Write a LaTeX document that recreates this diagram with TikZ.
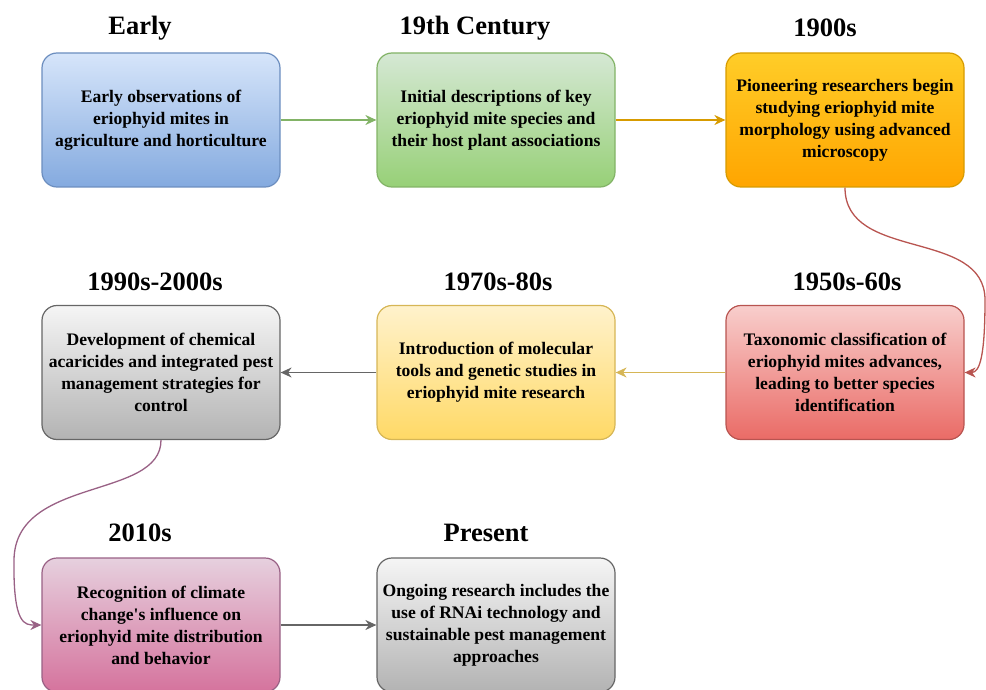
\documentclass[tikz,border=0pt]{standalone}
\usepackage{fontspec}
\setmainfont{Liberation Serif}[Ligatures=TeXOff]
\usetikzlibrary{arrows.meta}

\definecolor{blueT}{HTML}{D6E5FA}
\definecolor{blueB}{HTML}{84AADF}
\definecolor{blueL}{HTML}{6C8EBF}
\definecolor{greenT}{HTML}{D5E8D4}
\definecolor{greenB}{HTML}{97D077}
\definecolor{greenL}{HTML}{82B366}
\definecolor{orangeT}{HTML}{FFCD28}
\definecolor{orangeB}{HTML}{FFA500}
\definecolor{orangeL}{HTML}{D79B00}
\definecolor{redT}{HTML}{F8CECC}
\definecolor{redB}{HTML}{EA6B66}
\definecolor{redL}{HTML}{B85450}
\definecolor{yellowT}{HTML}{FFF2CC}
\definecolor{yellowB}{HTML}{FFD966}
\definecolor{yellowL}{HTML}{D6B656}
\definecolor{greyT}{HTML}{F5F5F5}
\definecolor{greyB}{HTML}{B3B3B3}
\definecolor{greyL}{HTML}{666666}
\definecolor{pinkT}{HTML}{E6D0DE}
\definecolor{pinkB}{HTML}{D5739D}
\definecolor{pinkL}{HTML}{996185}

\begin{document}
\begin{tikzpicture}[
            x=1pt, y=-1pt,
            box/.style={draw, rounded corners=15pt, line width=1.2pt,
            minimum width=238pt, minimum height=134pt,
            inner sep=2pt, align=center,
            font=\fontsize{17.6}{22}\selectfont\bfseries},
            era/.style={font=\fontsize{26.5}{31}\selectfont\bfseries},
            link/.style={-{Stealth[length=11pt,width=10pt,inset=3.5pt]}, line width=1.3pt}
        ]
\path[use as bounding box, clip] (0,0) rectangle (986,690);
% first row
            \node[box, draw=blueL, top color=blueT, bottom color=blueB]       (ear) at (161,120)
                {Early observations of\\eriophyid mites in\\agriculture and horticulture};
            \node[box, draw=greenL, top color=greenT, bottom color=greenB]    (c19) at (496,120)
                {Initial descriptions of key\\eriophyid mite species and\\their host plant associations};
            \node[box, draw=orangeL, top color=orangeT, bottom color=orangeB] (c20) at (845,120)
                {Pioneering researchers begin\\studying eriophyid mite\\morphology using advanced\\microscopy};
% second row
            \node[box, draw=redL, top color=redT, bottom color=redB]          (s50) at (845,372.5)
                {Taxonomic classification of\\eriophyid mites advances,\\leading to better species\\identification};
            \node[box, draw=yellowL, top color=yellowT, bottom color=yellowB] (s70) at (496,372.5)
                {Introduction of molecular\\tools and genetic studies in\\eriophyid mite research};
            \node[box, draw=greyL, top color=greyT, bottom color=greyB]       (s90) at (161,372.5)
                {Development of chemical\\acaricides and integrated pest\\management strategies for\\control};
% third row
            \node[box, draw=pinkL, top color=pinkT, bottom color=pinkB]       (s10) at (161,625)
                {Recognition of climate\\change's influence on\\eriophyid mite distribution\\and behavior};
            \node[box, draw=greyL, top color=greyT, bottom color=greyB]       (pre) at (496,625)
                {Ongoing research includes the\\use of RNAi technology and\\sustainable pest management\\approaches};
% era titles
            \node[era] (t-ear) at (140,28)  {Early};
            \node[era] (t-c19) at (475,28)  {19th Century};
            \node[era] (t-c20) at (825,28)  {1900s};
            \node[era] (t-s50) at (847,282) {1950s-60s};
            \node[era] (t-s70) at (498,282) {1970s-80s};
            \node[era] (t-s90) at (155,282) {1990s-2000s};
            \node[era] (t-s10) at (140,533) {2010s};
            \node[era] (t-pre) at (486,533) {Present};
% links
            \draw[link, greenL]  (ear) -- (c19);
            \draw[link, orangeL] (c19) -- (c20);
            \draw[link, redL]    (c20.south) .. controls (845,262) and (985,228) .. (985,300)
                                 .. controls (985,355) and (980,372.5) .. (s50.east);
            \draw[link, yellowL] (s50) -- (s70);
            \draw[link, greyL]   (s70) -- (s90);
            \draw[link, pinkL]   (s90.south) .. controls (161,500) and (15,476) .. (14,560)
                                 .. controls (13,625) and (25,625) .. (s10.west);
            \draw[link, greyL]   (s10) -- (pre);
        \end{tikzpicture}
\end{document}
